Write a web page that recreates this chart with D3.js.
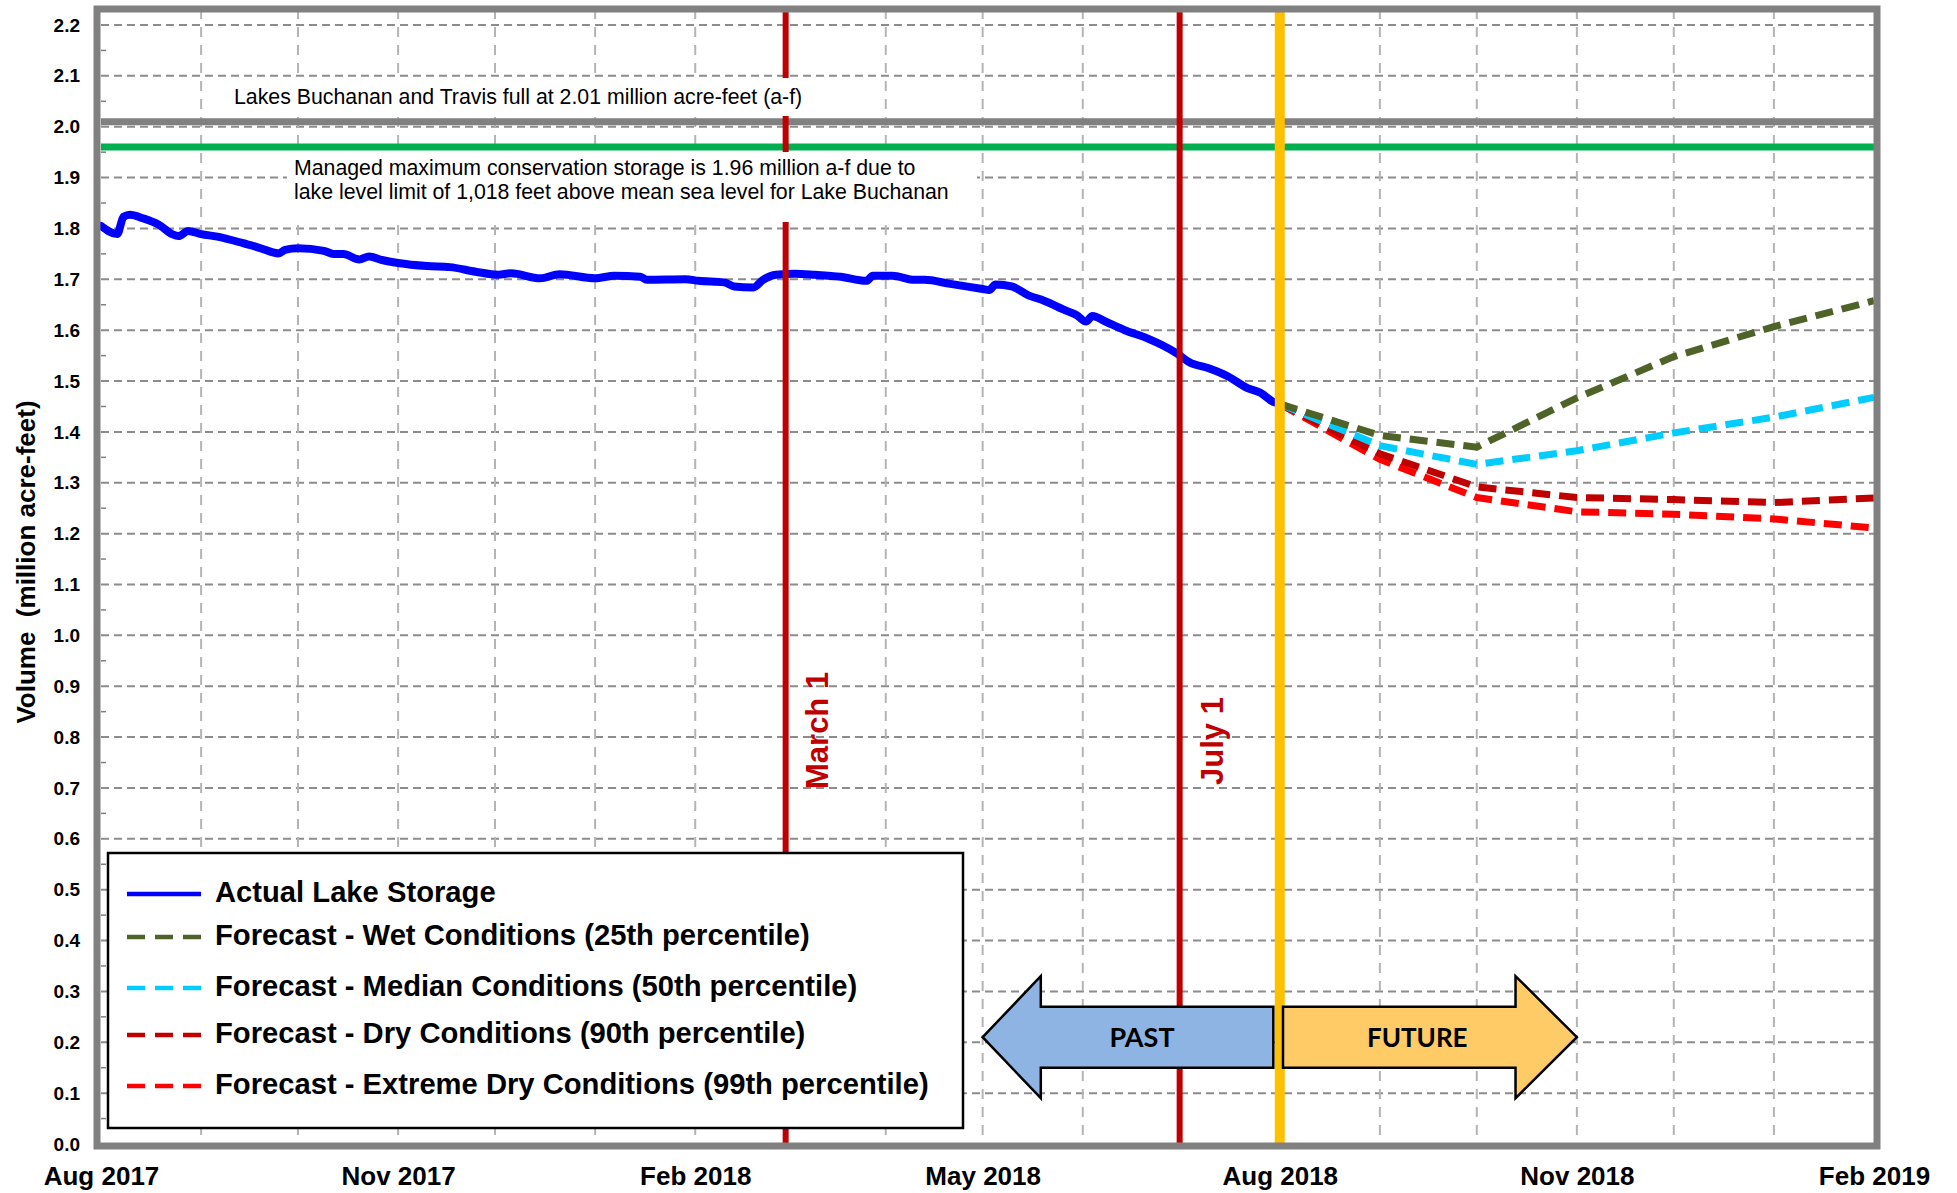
<!DOCTYPE html>
<html>
<head>
<meta charset="utf-8">
<script src="https://cdn.jsdelivr.net/npm/d3@7"></script>
<style>
  body { margin: 0; background: #fff; }
  svg { display: block; font-family: "Liberation Sans", Arial, sans-serif; }
</style>
</head>
<body>
<div id="chart"></div>
<script>
// ---- data ----
const actualDates = ["2017-08-01","2017-08-06","2017-08-08","2017-08-10","2017-08-14","2017-08-19","2017-08-23","2017-08-25",
  "2017-08-28","2017-09-01","2017-09-06","2017-09-14","2017-09-19","2017-09-25","2017-09-27","2017-10-01","2017-10-09",
  "2017-10-12","2017-10-15","2017-10-20","2017-10-23","2017-10-27","2017-11-01","2017-11-10","2017-11-17","2017-11-25",
  "2017-12-02","2017-12-06","2017-12-15","2017-12-21","2018-01-01","2018-01-07","2018-01-15","2018-01-17","2018-01-29",
  "2018-02-02","2018-02-10","2018-02-13","2018-02-19","2018-02-22","2018-02-26","2018-03-04","2018-03-10","2018-03-18",
  "2018-03-26","2018-03-28","2018-04-03","2018-04-10","2018-04-13","2018-04-21","2018-05-01","2018-05-03","2018-05-05",
  "2018-05-10","2018-05-15","2018-05-20","2018-05-27","2018-05-30","2018-06-02","2018-06-04","2018-06-08","2018-06-14",
  "2018-06-21","2018-06-30","2018-07-04","2018-07-10","2018-07-16","2018-07-22","2018-07-26","2018-07-30","2018-08-01"];
const actualValues = [1.805,1.789,1.823,1.827,1.820,1.807,1.789,1.785,
  1.795,1.789,1.784,1.771,1.762,1.751,1.758,1.761,1.756,
  1.750,1.750,1.739,1.745,1.738,1.732,1.726,1.724,1.715,
  1.709,1.712,1.702,1.710,1.702,1.707,1.705,1.699,1.700,
  1.697,1.694,1.686,1.684,1.699,1.709,1.711,1.709,1.705,
  1.697,1.707,1.707,1.699,1.699,1.691,1.681,1.679,1.690,
  1.686,1.669,1.658,1.638,1.630,1.617,1.628,1.617,1.600,
  1.584,1.555,1.537,1.525,1.509,1.486,1.477,1.459,1.455];

const forecastDates = ["2018-08-01","2018-09-01","2018-10-01","2018-11-01","2018-12-01","2019-01-01","2019-02-01"];
const wetValues     = [1.455, 1.393, 1.370, 1.467, 1.548, 1.607, 1.658];
const medianValues  = [1.455, 1.373, 1.336, 1.363, 1.398, 1.429, 1.468];
const dryValues     = [1.455, 1.357, 1.292, 1.271, 1.267, 1.261, 1.270];
const extremeValues = [1.455, 1.346, 1.271, 1.243, 1.238, 1.229, 1.211];

const xTickDates = ["2017-08-01","2017-11-01","2018-02-01","2018-05-01","2018-08-01","2018-11-01","2019-02-01"];
const yTickValues = d3.range(0, 23).map(i => i / 10);

const fullLevel = 2.01;
const managedMax = 1.96;
const markerDates = [{ date: "2018-03-01", label: "March 1" }, { date: "2018-07-01", label: "July 1" }];
const todayDate = "2018-08-01";

const parse = d3.timeParse("%Y-%m-%d");

// ---- layout ----
const W = 1957, H = 1193;
const svg = d3.select("#chart").append("svg").attr("width", W).attr("height", H);
svg.append("rect").attr("width", W).attr("height", H).attr("fill", "#fff");

const x = d3.scaleTime().domain([parse("2017-08-01"), parse("2019-02-01")]).range([101, 1874]);
const y = d3.scaleLinear().domain([0, 2.2]).range([1144, 25]);
const [x0, x1] = x.range();
const yTop = y(2.2) - 16, yBot = y(0);

// gridlines
svg.append("g").selectAll("line").data(yTickValues.filter(v => v > 0)).join("line")
  .attr("x1", x0).attr("x2", x1).attr("y1", d => y(d)).attr("y2", d => y(d))
  .attr("stroke", "#8c8c8c").attr("stroke-width", 2).attr("stroke-dasharray", "8,5");
svg.append("g").selectAll("line").data(d3.timeMonth.range(parse("2017-09-01"), parse("2019-02-01"))).join("line")
  .attr("x1", d => x(d)).attr("x2", d => x(d)).attr("y1", yTop).attr("y2", yBot)
  .attr("stroke", "#b4b4b4").attr("stroke-width", 2).attr("stroke-dasharray", "10,8");
// minor ticks on left
svg.append("g").selectAll("line").data(yTickValues.slice(0, -1).map(v => v + 0.05)).join("line")
  .attr("x1", x0).attr("x2", x0 + 5).attr("y1", d => y(d)).attr("y2", d => y(d))
  .attr("stroke", "#808080").attr("stroke-width", 1.5);

// reference levels
svg.append("line").attr("x1", x0).attr("x2", x1).attr("y1", y(fullLevel)).attr("y2", y(fullLevel))
  .attr("stroke", "#808080").attr("stroke-width", 7);
svg.append("line").attr("x1", x0).attr("x2", x1).attr("y1", y(managedMax)).attr("y2", y(managedMax))
  .attr("stroke", "#00b050").attr("stroke-width", 7);

// actual storage
const actual = actualDates.map((d, i) => ({ date: parse(d), value: actualValues[i] }));
const line = d3.line().x(d => x(d.date)).y(d => y(d.value)).curve(d3.curveMonotoneX);
svg.append("path").datum(actual).attr("d", line)
  .attr("fill", "none").attr("stroke", "#0000ff").attr("stroke-width", 8)
  .attr("stroke-linejoin", "round").attr("stroke-linecap", "round");

// forecasts
const series = [
  { label: "Forecast - Extreme Dry Conditions (99th percentile)", color: "#ff0000", values: extremeValues },
  { label: "Forecast - Dry Conditions (90th percentile)", color: "#c00000", values: dryValues },
  { label: "Forecast - Median Conditions (50th percentile)", color: "#00ccff", values: medianValues },
  { label: "Forecast - Wet Conditions (25th percentile)", color: "#4f6228", values: wetValues }
];
const fLine = d3.line().x(d => x(d.date)).y(d => y(d.value));
series.forEach(s => {
  const pts = forecastDates.map((d, i) => ({ date: parse(d), value: s.values[i] }));
  svg.append("path").datum(pts).attr("d", fLine)
    .attr("fill", "none").attr("stroke", s.color).attr("stroke-width", 7)
    .attr("stroke-dasharray", "18,9");
});

// vertical markers
markerDates.forEach(m => {
  svg.append("line").attr("x1", x(parse(m.date))).attr("x2", x(parse(m.date)))
    .attr("y1", yTop).attr("y2", yBot).attr("stroke", "#c00000").attr("stroke-width", 6);
});
svg.append("line").attr("x1", x(parse(todayDate))).attr("x2", x(parse(todayDate)))
  .attr("y1", yTop).attr("y2", yBot).attr("stroke", "#ffc000").attr("stroke-width", 10);

// annotation boxes
svg.append("rect").attr("x", 226).attr("y", 78).attr("width", 590).attr("height", 38).attr("fill", "#fff");
svg.append("text").attr("x", 234).attr("y", 104).attr("font-size", 21.3)
  .text("Lakes Buchanan and Travis full at 2.01 million acre-feet (a-f)");
svg.append("rect").attr("x", 287).attr("y", 152).attr("width", 690).attr("height", 70).attr("fill", "#fff");
const note = svg.append("text").attr("font-size", 21.3);
note.append("tspan").attr("x", 294).attr("y", 175).text("Managed maximum conservation storage is 1.96 million a-f due to");
note.append("tspan").attr("x", 294).attr("y", 199).text("lake level limit of 1,018 feet above mean sea level for Lake Buchanan");

// marker labels
const markerLabelPos = [{ dx: 42, y: 789 }, { dx: 43, y: 785 }];
markerDates.forEach((m, i) => {
  const px = x(parse(m.date)) + markerLabelPos[i].dx;
  svg.append("text").attr("transform", `translate(${px},${markerLabelPos[i].y}) rotate(-90)`)
    .attr("font-size", 31).attr("font-weight", "bold").attr("fill", "#c00000").text(m.label);
});

// past / future arrows
const arrowY = 0.21, bodyH = 0.06, headH = 0.12;
const pastArrow = { tip: "2018-05-01", neck: "2018-05-19", end: "2018-07-30" };
const futureArrow = { start: "2018-08-02", neck: "2018-10-13", tip: "2018-11-01" };
const ptsPast = [
  [x(parse(pastArrow.tip)), y(arrowY)],
  [x(parse(pastArrow.neck)), y(arrowY + headH)],
  [x(parse(pastArrow.neck)), y(arrowY + bodyH)],
  [x(parse(pastArrow.end)), y(arrowY + bodyH)],
  [x(parse(pastArrow.end)), y(arrowY - bodyH)],
  [x(parse(pastArrow.neck)), y(arrowY - bodyH)],
  [x(parse(pastArrow.neck)), y(arrowY - headH)]
];
const ptsFuture = [
  [x(parse(futureArrow.start)), y(arrowY + bodyH)],
  [x(parse(futureArrow.neck)), y(arrowY + bodyH)],
  [x(parse(futureArrow.neck)), y(arrowY + headH)],
  [x(parse(futureArrow.tip)), y(arrowY)],
  [x(parse(futureArrow.neck)), y(arrowY - headH)],
  [x(parse(futureArrow.neck)), y(arrowY - bodyH)],
  [x(parse(futureArrow.start)), y(arrowY - bodyH)]
];
svg.append("polygon").attr("points", ptsPast.join(" ")).attr("fill", "#8eb4e3")
  .attr("stroke", "#000").attr("stroke-width", 2.5).attr("stroke-linejoin", "miter");
svg.append("polygon").attr("points", ptsFuture.join(" ")).attr("fill", "#fecb66")
  .attr("stroke", "#000").attr("stroke-width", 2.5).attr("stroke-linejoin", "miter");
svg.append("text").attr("x", (x(parse(pastArrow.neck)) + x(parse(pastArrow.end))) / 2 - 15).attr("y", y(arrowY) + 10)
  .attr("text-anchor", "middle").attr("font-family", "Lato, 'Open Sans', sans-serif")
  .attr("font-weight", "bold").attr("font-size", 27).text("PAST");
svg.append("text").attr("x", (x(parse(futureArrow.start)) + x(parse(futureArrow.neck))) / 2 + 18).attr("y", y(arrowY) + 10)
  .attr("text-anchor", "middle").attr("font-family", "Lato, 'Open Sans', sans-serif")
  .attr("font-weight", "bold").attr("font-size", 26).text("FUTURE");

// legend
const legend = svg.append("g");
legend.append("rect").attr("x", 108).attr("y", 853).attr("width", 855).attr("height", 275)
  .attr("fill", "#fff").attr("stroke", "#000").attr("stroke-width", 2.5);
const legendRows = [
  { label: "Actual Lake Storage", color: "#0000ff", dash: null, y: 892 },
  { label: series[3].label, color: series[3].color, dash: "18,10", y: 935 },
  { label: series[2].label, color: series[2].color, dash: "18,10", y: 986 },
  { label: series[1].label, color: series[1].color, dash: "18,10", y: 1033 },
  { label: series[0].label, color: series[0].color, dash: "18,10", y: 1084 }
];
legendRows.forEach(r => {
  legend.append("line").attr("x1", 127).attr("x2", 201).attr("y1", r.y + 2).attr("y2", r.y + 2)
    .attr("stroke", r.color).attr("stroke-width", 4.5).attr("stroke-dasharray", r.dash);
  legend.append("text").attr("x", 215).attr("y", r.y + 10).attr("font-size", 29.2)
    .attr("font-weight", "bold").text(r.label);
});

// frame
svg.append("rect").attr("x", x0 - 4).attr("y", yTop).attr("width", x1 - x0 + 7).attr("height", yBot - yTop + 2)
  .attr("fill", "none").attr("stroke", "#808080").attr("stroke-width", 7);

// axes
const xAxis = d3.axisBottom(x).tickValues(xTickDates.map(parse)).tickFormat(d3.timeFormat("%b %Y"))
  .tickSize(0).tickPadding(23);
svg.append("g").attr("transform", `translate(0,${yBot})`).call(xAxis)
  .call(g => g.select(".domain").remove())
  .selectAll("text").attr("font-size", 26).attr("font-weight", "bold").attr("fill", "#000")
  .attr("font-family", "'Liberation Sans', Arial, sans-serif");

const yAxis = d3.axisLeft(y).tickValues(yTickValues).tickFormat(d3.format(".1f")).tickSize(0).tickPadding(21);
svg.append("g").attr("transform", `translate(${x0},0)`).call(yAxis)
  .call(g => g.select(".domain").remove())
  .selectAll("text").attr("font-size", 19).attr("font-weight", "bold").attr("fill", "#000")
  .attr("font-family", "'Liberation Sans', Arial, sans-serif");

svg.append("text").attr("transform", `translate(35,562) rotate(-90)`).attr("text-anchor", "middle")
  .attr("font-size", 26).attr("font-weight", "bold").style("white-space", "pre")
  .text("Volume  (million acre-feet)");
</script>
</body>
</html>
